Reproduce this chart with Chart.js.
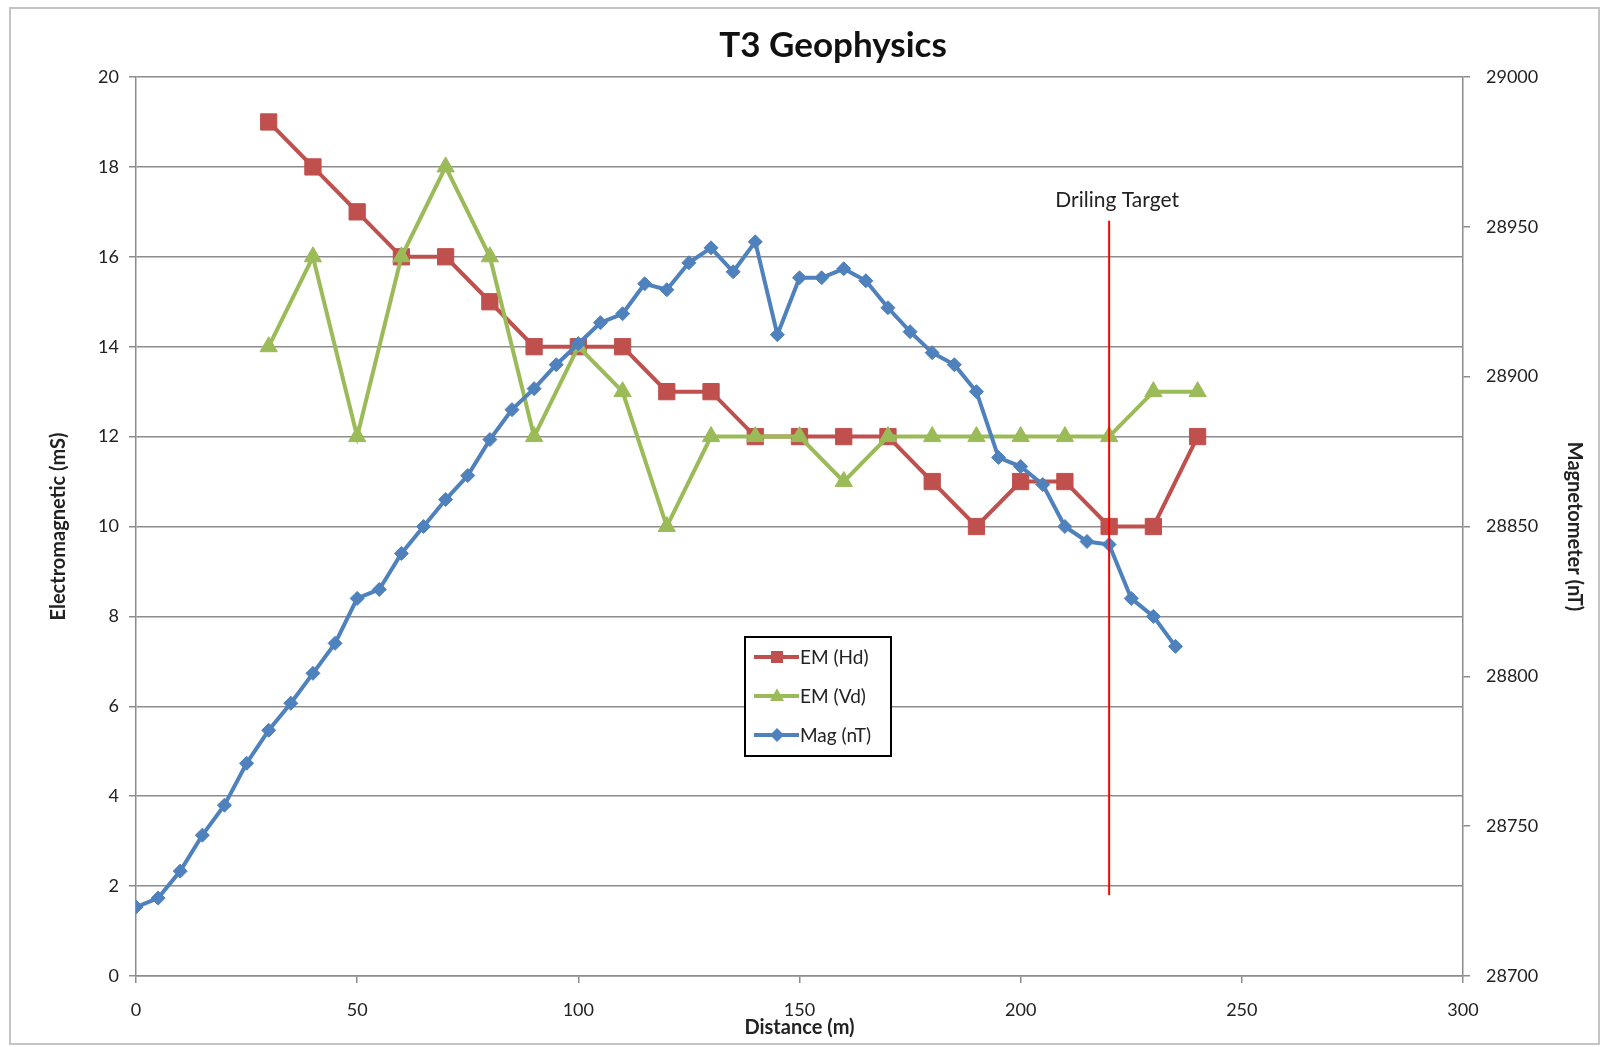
<!DOCTYPE html>
<html lang="en">
<head>
<meta charset="UTF-8">
<title>T3 Geophysics</title>
<script src="https://cdn.jsdelivr.net/npm/chart.js"></script>
<style>
  body { margin: 0; background: #fff; }
</style>
</head>
<body>
<canvas id="geoChart" width="1602" height="1047"></canvas>
<script>
// distances (m) for the EM readings
const emDistance = [30, 40, 50, 60, 70, 80, 90, 100, 110, 120, 130, 140, 150, 160, 170, 180, 190, 200, 210, 220, 230, 240];
const emHd = [19, 18, 17, 16, 16, 15, 14, 14, 14, 13, 13, 12, 12, 12, 12, 11, 10, 11, 11, 10, 10, 12];
const emVd = [14, 16, 12, 16, 18, 16, 12, 14, 13, 10, 12, 12, 12, 11, 12, 12, 12, 12, 12, 12, 13, 13];

// distances (m) for the magnetometer readings
const magDistance = [0, 5, 10, 15, 20, 25, 30, 35, 40, 45, 50, 55, 60, 65, 70, 75, 80, 85, 90, 95,
  100, 105, 110, 115, 120, 125, 130, 135, 140, 145, 150, 155, 160, 165, 170, 175, 180, 185, 190, 195,
  200, 205, 210, 215, 220, 225, 230, 235];
const magValues = [28723, 28726, 28735, 28747, 28757, 28771, 28782, 28791, 28801, 28811, 28826, 28829, 28841, 28850, 28859, 28867, 28879, 28889, 28896, 28904,
  28911, 28918, 28921, 28931, 28929, 28938, 28943, 28935, 28945, 28914, 28933, 28933, 28936, 28932, 28923, 28915, 28908, 28904, 28895, 28873,
  28870, 28864, 28850, 28845, 28844, 28826, 28820, 28810];

// axis ranges [min, max, step]
const distanceAxis = [0, 300, 50];
const emAxis = [0, 20, 2];
const magAxis = [28700, 29000, 50];

// drilling target marker
const targetX = 220;
const targetY = [1.8, 16.8];
const targetLabel = 'Driling Target';
const chartTitle = 'T3 Geophysics';

const gridGray = '#8c8c8c';
const fontName = 'Lato, "Open Sans", sans-serif';

function pairs(xs, ys) {
  return xs.map((x, i) => ({ x: x, y: ys[i] }));
}

function marker(ctx, style, x, y, r, color) {
  ctx.save();
  ctx.fillStyle = color;
  ctx.beginPath();
  if (style === 'rect') {
    ctx.rect(x - r, y - r, 2 * r, 2 * r);
  } else if (style === 'triangle') {
    ctx.moveTo(x, y - r * 1.1);
    ctx.lineTo(x + r, y + r * 0.7);
    ctx.lineTo(x - r, y + r * 0.7);
    ctx.closePath();
  } else {
    ctx.moveTo(x, y - r);
    ctx.lineTo(x + r, y);
    ctx.lineTo(x, y + r);
    ctx.lineTo(x - r, y);
    ctx.closePath();
  }
  ctx.fill();
  ctx.restore();
}

// white page, grey frame and the title (sits a bit right of centre in the original)
const frame = {
  id: 'frame',
  beforeDraw(chart) {
    const ctx = chart.ctx;
    ctx.save();
    ctx.fillStyle = '#fff';
    ctx.fillRect(0, 0, chart.width, chart.height);
    ctx.strokeStyle = '#c4c4c4';
    ctx.lineWidth = 2;
    ctx.strokeRect(10, 8, chart.width - 13, chart.height - 11);
    ctx.font = 'bold 35px ' + fontName;
    ctx.fillStyle = '#111';
    ctx.textAlign = 'center';
    ctx.textBaseline = 'middle';
    ctx.fillText(chartTitle, 833, 46);
    ctx.restore();
  }
};

const targetText = {
  id: 'targetText',
  afterDatasetsDraw(chart) {
    const ctx = chart.ctx;
    const x = chart.scales.x.getPixelForValue(targetX);
    const y = chart.scales.y.getPixelForValue(targetY[1]);
    ctx.save();
    ctx.font = '21px ' + fontName;
    ctx.fillStyle = '#222';
    ctx.textAlign = 'center';
    ctx.textBaseline = 'bottom';
    ctx.fillText(targetLabel, x + 8, y - 10);
    ctx.restore();
  }
};

const boxLegend = {
  id: 'boxLegend',
  afterDraw(chart) {
    const ctx = chart.ctx;
    const items = chart.data.datasets.filter(d => d.inLegend);
    const bx = 745, by = 637, bw = 146, bh = 119;
    ctx.save();
    ctx.fillStyle = '#fff';
    ctx.fillRect(bx, by, bw, bh);
    ctx.strokeStyle = '#000';
    ctx.lineWidth = 2;
    ctx.strokeRect(bx, by, bw, bh);
    ctx.font = '19px ' + fontName;
    ctx.textBaseline = 'middle';
    items.forEach((d, i) => {
      const y = by + 20 + i * 39;
      ctx.strokeStyle = d.borderColor;
      ctx.lineWidth = 4;
      ctx.beginPath();
      ctx.moveTo(bx + 9, y);
      ctx.lineTo(bx + 54, y);
      ctx.stroke();
      marker(ctx, d.pointStyle, bx + 32, y, d.pointStyle === 'rect' ? 6 : 7, d.borderColor);
      ctx.fillStyle = '#222';
      ctx.fillText(d.label, bx + 55, y + 1);
    });
    ctx.restore();
  }
};

Chart.defaults.font.family = fontName;
Chart.defaults.color = '#222';

new Chart(document.getElementById('geoChart'), {
  type: 'line',
  data: {
    datasets: [
      {
        label: 'Driling Target',
        data: pairs([targetX, targetX], targetY),
        yAxisID: 'y',
        borderColor: '#ff0000',
        borderWidth: 2,
        pointRadius: 0,
        order: 0
      },
      {
        label: 'EM (Hd)',
        inLegend: true,
        data: pairs(emDistance, emHd),
        yAxisID: 'y',
        borderColor: '#c0504d',
        backgroundColor: '#c0504d',
        borderWidth: 4,
        pointStyle: 'rect',
        pointRadius: 11.5,
        pointBorderWidth: 1,
        order: 3
      },
      {
        label: 'EM (Vd)',
        inLegend: true,
        data: pairs(emDistance, emVd),
        yAxisID: 'y',
        borderColor: '#9bbb59',
        backgroundColor: '#9bbb59',
        borderWidth: 4,
        pointStyle: 'triangle',
        pointRadius: 10,
        pointBorderWidth: 1,
        order: 2
      },
      {
        label: 'Mag (nT)',
        inLegend: true,
        data: pairs(magDistance, magValues),
        yAxisID: 'y2',
        borderColor: '#4f81bd',
        backgroundColor: '#4f81bd',
        borderWidth: 4,
        pointStyle: 'rectRot',
        pointRadius: 7,
        pointBorderWidth: 1,
        order: 1
      }
    ]
  },
  options: {
    responsive: false,
    animation: false,
    devicePixelRatio: 1,
    layout: { padding: { left: 10, right: 3, top: 77, bottom: 3 } },
    plugins: {
      legend: { display: false },
      tooltip: { enabled: false },
      title: { display: false }
    },
    scales: {
      x: {
        type: 'linear',
        min: distanceAxis[0],
        max: distanceAxis[1],
        ticks: { stepSize: distanceAxis[2], padding: 16, font: { size: 18 } },
        grid: { drawOnChartArea: false, tickLength: 7, color: gridGray, lineWidth: 1.5 },
        border: { color: gridGray, width: 1.5 },
        title: { display: true, text: 'Distance (m)', font: { size: 20, weight: 'bold' }, padding: { top: 0, bottom: 4 } },
        afterFit: s => { s.height = 68; }
      },
      y: {
        position: 'left',
        min: emAxis[0],
        max: emAxis[1],
        ticks: { stepSize: emAxis[2], padding: 10, font: { size: 18 } },
        grid: { tickLength: 7, color: gridGray, lineWidth: 1.5 },
        border: { color: gridGray, width: 1.5 },
        title: { display: true, text: 'Electromagnetic (mS)', font: { size: 20, weight: 'bold' }, padding: { top: 37, bottom: 0 } },
        afterFit: s => { s.width = 126; }
      },
      y2: {
        position: 'right',
        min: magAxis[0],
        max: magAxis[1],
        ticks: {
          stepSize: magAxis[2],
          padding: 16,
          font: { size: 18 },
          callback: v => String(v)
        },
        grid: { drawOnChartArea: false, tickLength: 7, color: gridGray, lineWidth: 1.5 },
        border: { color: gridGray, width: 1.5 },
        title: { display: true, text: 'Magnetometer (nT)', font: { size: 20, weight: 'bold' }, padding: { top: 13, bottom: 0 } },
        afterFit: s => { s.width = 136; }
      }
    }
  },
  plugins: [frame, targetText, boxLegend]
});
</script>
</body>
</html>
